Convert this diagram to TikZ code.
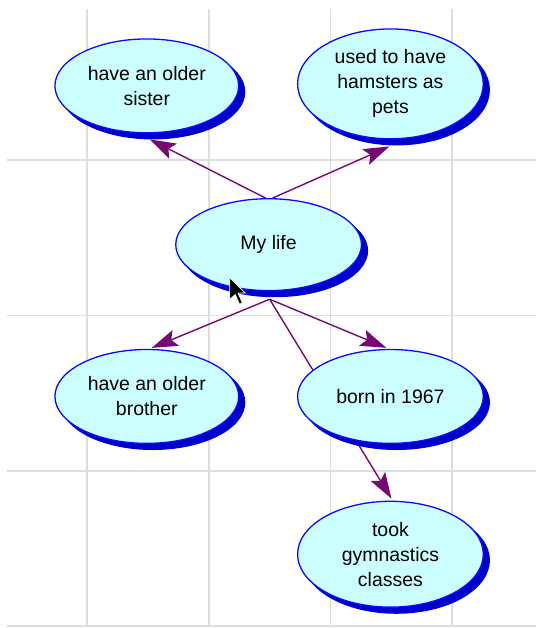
\documentclass[tikz,border=0pt]{standalone}
\usepackage{fontspec}
\setmainfont{Liberation Sans}
\usetikzlibrary{shapes.geometric,arrows.meta}
\definecolor{bordblue}{RGB}{10,10,255}
\definecolor{bubfill}{RGB}{204,255,255}
\definecolor{shadeblue}{RGB}{0,0,205}
\definecolor{linkpurple}{RGB}{118,10,112}
\definecolor{gridgray}{RGB}{222,222,222}
\pgfdeclarelayer{bglayer}
\pgfdeclarelayer{gridlayer}
\pgfdeclarelayer{edgelayer}
\pgfsetlayers{bglayer,gridlayer,edgelayer,main}
\begin{document}
\begin{tikzpicture}[x=1pt,y=-1pt,
  bubble/.style={ellipse, draw=bordblue, line width=1.3pt, fill=bubfill, inner sep=0pt,
    align=center, font=\fontsize{19.5}{25}\selectfont, text=black},
  shade/.style={ellipse, fill=shadeblue, draw=shadeblue, line width=1.3pt, inner sep=0pt},
  link/.style={draw=linkpurple, line width=1.4pt, -{Stealth[length=26pt,width=17pt,inset=5pt]}},
  gridline/.style={draw=gridgray, line width=1.8pt}]
\begin{pgfonlayer}{bglayer}
  \fill[white] (0,0) rectangle (537,628);
\end{pgfonlayer}
\begin{pgfonlayer}{gridlayer}
  \foreach \gx in {87,209,331,453} {\draw[gridline] (\gx,9) -- (\gx,628);}
  \foreach \gy in {160,316,472,627} {\draw[gridline] (7,\gy) -- (537,\gy);}
\end{pgfonlayer}
% shadows
\node[shade, minimum width=184pt, minimum height=94pt] at (153,92) {};
\node[shade, minimum width=186pt, minimum height=110pt] at (397,90) {};
\node[shade, minimum width=186pt, minimum height=92pt] at (275,251) {};
\node[shade, minimum width=184pt, minimum height=94pt] at (153,403) {};
\node[shade, minimum width=186pt, minimum height=94pt] at (397,403) {};
\node[shade, minimum width=186pt, minimum height=106pt] at (397,561) {};
% bubbles
\node[bubble, minimum width=184pt, minimum height=94pt] (sister) at (147,86) {have an older\\sister};
\node[bubble, minimum width=186pt, minimum height=110pt] (hamsters) at (391,84) {used to have\\hamsters as\\pets};
\node[bubble, minimum width=186pt, minimum height=92pt] (mylife) at (269,245) {My life};
\node[bubble, minimum width=184pt, minimum height=94pt] (brother) at (147,397) {have an older\\brother};
\node[bubble, minimum width=186pt, minimum height=94pt] (born) at (391,397) {born in 1967};
\node[bubble, minimum width=186pt, minimum height=106pt] (took) at (391,555) {took\\gymnastics\\classes};
\coordinate (mlb) at ([shift={(1,8)}]mylife.south);
\begin{pgfonlayer}{edgelayer}
  \draw[link] ([xshift=-3]mylife.north) -- ([shift={(3,6)}]sister.south);
  \draw[link] ([xshift=4]mylife.north) -- ([shift={(-1,7)}]hamsters.south);
  \draw[link] (mlb) -- ([shift={(5,-1)}]brother.north);
  \draw[link] (mlb) -- ([shift={(-4,-1)}]born.north);
  \draw[link] (mlb) -- ([shift={(1,-2)}]took.north);
\end{pgfonlayer}
% mouse pointer
\filldraw[fill=black, draw=white, line width=0.8pt] (230,278) -- ++(0,22) -- ++(5.6,-5) -- ++(4.4,10) -- ++(2.6,-2) -- ++(-4.2,-9.6) -- ++(7,0) -- cycle;
\end{tikzpicture}
\end{document}
